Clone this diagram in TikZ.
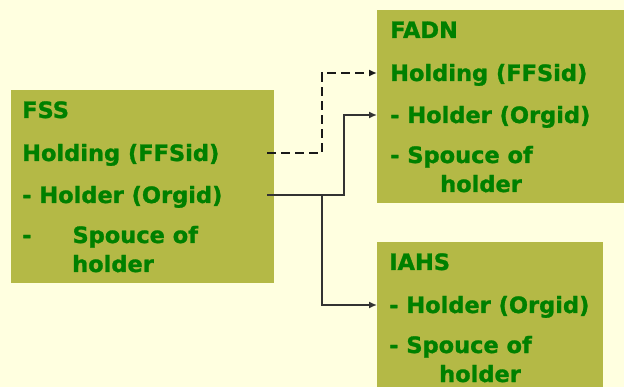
\documentclass[tikz,border=0pt]{standalone}
\usepackage{fontspec}
\setmainfont{DejaVu Sans}
\newfontfamily\heavyfont[FakeBold=1.2]{DejaVu Sans Bold}
\usetikzlibrary{arrows.meta,calc}
\definecolor{bgyellow}{RGB}{255,255,224}
\definecolor{boxolive}{RGB}{180,185,70}
\definecolor{textgreen}{RGB}{0,128,0}

\begin{document}
\begin{tikzpicture}[x=1pt, y=-1pt,
    box/.style={fill=boxolive, anchor=north west, inner sep=0pt},
    row/.style={anchor=base west, inner sep=0pt, text height=16pt, text depth=0pt, text=textgreen, font=\fontsize{22.5}{26}\heavyfont},
    link/.style={draw=black!80, line width=1.5pt, -{Latex[length=8pt,width=7pt]}},
    dashlink/.style={draw=black!90, line width=2.6pt, dash pattern=on 9pt off 5pt, -{Latex[length=8pt,width=7pt]}}
]
  \fill[bgyellow] (0,0) rectangle (624,387);
  \useasboundingbox (0,0) rectangle (624,387);

  % boxes
  \node[box, minimum width=263pt, minimum height=193pt] (fss) at (11,90) {};
  \node[box, minimum width=247pt, minimum height=193pt] (fadn) at (377,10) {};
  \node[box, minimum width=226pt, minimum height=145pt] (iahs) at (377,242) {};

  % FSS
  \node[row] (fssTitle) at (22,118) {FSS};
  \node[row] (fssHolding) at (22,161) {Holding (FFSid)};
  \node[row] (fssHolder) at (22,203) {- Holder (Orgid)};
  \node[row] (fssSpouce) at (22,243) {-\hspace{41pt}Spouce of};
  \node[row] (fssSpouceB) at (72,272) {holder};

  % FADN
  \node[row] (fadnTitle) at (390,38) {FADN};
  \node[row] (fadnHolding) at (390,81) {Holding (FFSid)};
  \node[row] (fadnHolder) at (390,123) {- Holder (Orgid)};
  \node[row] (fadnSpouce) at (390,163) {- Spouce of};
  \node[row] (fadnSpouceB) at (440,192) {holder};

  % IAHS
  \node[row] (iahsTitle) at (389,270) {IAHS};
  \node[row] (iahsHolder) at (389,313) {- Holder (Orgid)};
  \node[row] (iahsSpouce) at (389,353) {- Spouce of};
  \node[row] (iahsSpouceB) at (439,382) {holder};

  % connectors
  \coordinate (dashOut) at ($(fssHolding.west -| fss.east)+(-7,0)$);
  \coordinate (holderOut) at ($(fssHolder.west -| fss.east)+(-7,0)$);
  \coordinate (bend) at (322,0);
  \draw[dashlink] (dashOut) -- (dashOut -| bend) |- (fadnHolding.west -| fadn.west);
  \draw[link] (holderOut) -| ($(fadnHolder.west -| fadn.west)+(-33,0)$) -- (fadnHolder.west -| fadn.west);
  \draw[link] (holderOut -| bend) |- (iahsHolder.west -| iahs.west);
\end{tikzpicture}
\end{document}
